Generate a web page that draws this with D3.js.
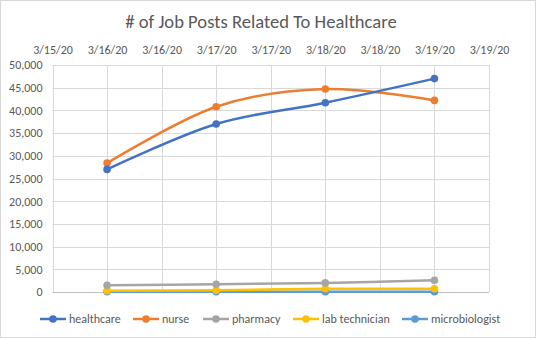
<!DOCTYPE html>
<html><head><meta charset="utf-8">
<script src="https://cdn.jsdelivr.net/npm/d3@7"></script>
<style>
html,body{margin:0;padding:0;background:#fff;}
text{font-family:Calibri,Carlito,"Liberation Sans",Arial,sans-serif;fill:#595959;}
</style></head>
<body><svg id="c" width="536" height="338"></svg>
<script>
const title = "# of Job Posts Related To Healthcare";
const dates = ["2020-03-16","2020-03-17","2020-03-18","2020-03-19"];
const seriesNames = ["healthcare","nurse","pharmacy","lab technician","microbiologist"];
const seriesColors = ["#4472C4","#ED7D31","#A5A5A5","#FFC000","#5B9BD5"];
const healthcare = [27000, 37000, 41700, 47000];
const nurse = [28400, 40800, 44700, 42200];
const pharmacy = [1500, 1700, 2000, 2600];
const labTechnician = [300, 400, 700, 700];
const microbiologist = [50, 50, 50, 50];
const yTicks = [0,5000,10000,15000,20000,25000,30000,35000,40000,45000,50000];
const xDomain = ["2020-03-15T12:00","2020-03-19T12:00"];

const seriesValues = [healthcare, nurse, pharmacy, labTechnician, microbiologist];
const parse = s => new Date(s.length === 10 ? s + "T00:00" : s);

const svg = d3.select("#c");
const W = 536, H = 338;
const m = {l:52.5, r:47, t:65, b:46};

svg.append("rect").attr("x",0.5).attr("y",0.5).attr("width",W-1).attr("height",H-1)
  .attr("fill","#fff").attr("stroke","#D9D9D9");

const x = d3.scaleTime().domain(xDomain.map(parse)).range([m.l, W - m.r]);
const y = d3.scaleLinear().domain([0,50000]).range([H - m.b, m.t]);

const xTicks = d3.timeHour.every(12).range(parse(xDomain[0]), d3.timeMinute.offset(parse(xDomain[1]),1));
const fmtDate = d3.timeFormat("%-m/%-d/%y");

// grid
const g = svg.append("g");
g.selectAll(".hg").data(yTicks.slice(1)).join("line")
  .attr("x1", m.l).attr("x2", W - m.r)
  .attr("y1", d => Math.round(y(d))+0.5).attr("y2", d => Math.round(y(d))+0.5)
  .attr("stroke","#D9D9D9").attr("stroke-width",1);
g.selectAll(".vg").data(xTicks).join("line")
  .attr("x1", d => Math.round(x(d))+0.5).attr("x2", d => Math.round(x(d))+0.5)
  .attr("y1", m.t).attr("y2", H - m.b)
  .attr("stroke","#D9D9D9").attr("stroke-width",1);
g.append("line").attr("x1", m.l).attr("x2", W - m.r)
  .attr("y1", Math.round(y(0))+0.5).attr("y2", Math.round(y(0))+0.5)
  .attr("stroke","#BFBFBF");

// axes (using d3 axes, then styling)
const yAxis = svg.append("g").attr("transform",`translate(${m.l},0)`)
  .call(d3.axisLeft(y).tickValues(yTicks).tickFormat(d3.format(",")).tickSize(0).tickPadding(10));
yAxis.select(".domain").remove();
yAxis.selectAll("text").style("font-size","12px").attr("fill","#595959");

const xAxis = svg.append("g").attr("transform",`translate(0,${m.t})`)
  .call(d3.axisTop(x).tickValues(xTicks).tickFormat(fmtDate).tickSize(0).tickPadding(11));
xAxis.select(".domain").remove();
xAxis.selectAll("text").style("font-size","12px").attr("fill","#595959");

// title
svg.append("text").attr("x", 261).attr("y", 28).attr("text-anchor","middle")
  .style("font-size","18.6px").text(title);

// lines
const line = d3.line().x((d,i) => x(parse(dates[i]))).y(d => y(d)).curve(d3.curveCardinal.tension(0));
const order = [4,3,2,1,0];
order.forEach(si => {
  const vals = seriesValues[si];
  svg.append("path").attr("d", line(vals)).attr("fill","none")
    .attr("stroke", seriesColors[si]).attr("stroke-width",2.5).attr("stroke-linecap","round");
  svg.selectAll(null).data(vals).join("circle")
    .attr("cx",(d,i)=>x(parse(dates[i]))).attr("cy",d=>y(d)).attr("r",3.8)
    .attr("fill", seriesColors[si]);
});

// legend
const legX = [40, 133, 203, 293, 402];
const ly = 319;
seriesNames.forEach((n,i) => {
  const lg = svg.append("g");
  lg.append("line").attr("x1",legX[i]).attr("x2",legX[i]+26).attr("y1",ly).attr("y2",ly)
    .attr("stroke",seriesColors[i]).attr("stroke-width",2.5);
  lg.append("circle").attr("cx",legX[i]+13).attr("cy",ly).attr("r",3.8).attr("fill",seriesColors[i]);
  lg.append("text").attr("x",legX[i]+29).attr("y",ly+4).style("font-size","12px").text(n);
});
</script></body></html>
